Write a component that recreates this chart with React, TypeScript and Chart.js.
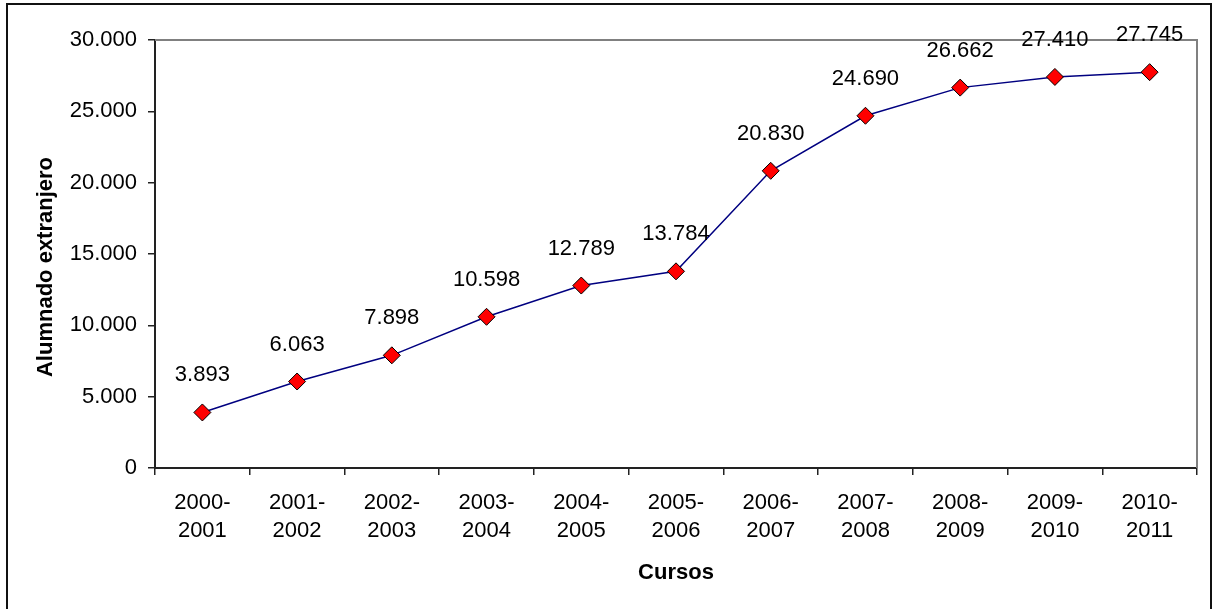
import React, { useEffect, useRef } from 'react';
import { Chart, registerables } from 'chart.js';

Chart.register(...registerables);

const categories: string[][] = [
  ['2000-', '2001'],
  ['2001-', '2002'],
  ['2002-', '2003'],
  ['2003-', '2004'],
  ['2004-', '2005'],
  ['2005-', '2006'],
  ['2006-', '2007'],
  ['2007-', '2008'],
  ['2008-', '2009'],
  ['2009-', '2010'],
  ['2010-', '2011'],
];
const values: number[] = [3893, 6063, 7898, 10598, 12789, 13784, 20830, 24690, 26662, 27410, 27745];
const yTicks: number[] = [0, 5000, 10000, 15000, 20000, 25000, 30000];
const yTitle = 'Alumnado extranjero';
const xTitle = 'Cursos';

const FONT = "'Liberation Sans', Arial, sans-serif";

function fmt(v: number): string {
  return String(v).replace(/\B(?=(\d{3})+(?!\d))/g, '.');
}

const decor = {
  id: 'decor',
  beforeDraw(chart: any) {
    const { ctx, width, height } = chart;
    ctx.save();
    ctx.fillStyle = '#ffffff';
    ctx.fillRect(0, 0, width, height);
    ctx.strokeStyle = '#111111';
    ctx.lineWidth = 2;
    ctx.beginPath();
    ctx.moveTo(7, height + 5);
    ctx.lineTo(7, 4);
    ctx.lineTo(1211, 4);
    ctx.lineTo(1211, height + 5);
    ctx.stroke();
    ctx.restore();
  },
  beforeDatasetsDraw(chart: any) {
    const { ctx, chartArea } = chart;
    ctx.save();
    ctx.strokeStyle = '#808080';
    ctx.lineWidth = 2;
    ctx.beginPath();
    ctx.moveTo(chartArea.left, chartArea.top);
    ctx.lineTo(chartArea.right, chartArea.top);
    ctx.lineTo(chartArea.right, chartArea.bottom);
    ctx.stroke();
    ctx.restore();
  },
  afterDatasetsDraw(chart: any) {
    const { ctx, chartArea } = chart;
    const meta = chart.getDatasetMeta(0);
    ctx.save();
    ctx.fillStyle = '#000000';
    ctx.font = `22px ${FONT}`;
    ctx.textAlign = 'center';
    ctx.textBaseline = 'alphabetic';
    meta.data.forEach((pt: any, i: number) => {
      ctx.fillText(fmt(values[i]), pt.x, pt.y - 31);
    });
    ctx.font = `bold 22px ${FONT}`;
    ctx.fillText(xTitle, (chartArea.left + chartArea.right) / 2, 579);
    ctx.translate(52, (chartArea.top + chartArea.bottom) / 2 + 13);
    ctx.rotate(-Math.PI / 2);
    ctx.fillText(yTitle, 0, 0);
    ctx.restore();
  },
};

export default function App() {
  const ref = useRef<HTMLCanvasElement | null>(null);
  useEffect(() => {
    if (!ref.current) return;
    const chart = new Chart(ref.current, {
      type: 'line',
      data: {
        labels: categories,
        datasets: [
          {
            data: values,
            borderColor: '#000080',
            borderWidth: 1.5,
            tension: 0,
            pointStyle: 'rectRot',
            pointRadius: 8.5,
            pointHoverRadius: 8.5,
            pointBackgroundColor: '#ff0000',
            pointBorderColor: '#000000',
            pointBorderWidth: 1,
          },
        ],
      },
      options: {
        animation: false,
        responsive: false,
        devicePixelRatio: 1,
        events: [],
        layout: { padding: { left: 0, right: 16, top: 40, bottom: 0 } },
        plugins: {
          legend: { display: false },
          tooltip: { enabled: false },
          title: { display: false },
        },
        scales: {
          x: {
            type: 'category',
            offset: true,
            grid: {
              display: true,
              offset: true,
              drawOnChartArea: false,
              drawTicks: true,
              tickLength: 7,
              color: '#222222',
              lineWidth: 1.5,
            },
            border: { display: true, color: '#222222', width: 2 },
            ticks: {
              color: '#000000',
              font: { family: FONT, size: 22, lineHeight: 1.28 },
              padding: 14,
              maxRotation: 0,
              autoSkip: false,
            },
            afterFit: (s: any) => {
              s.height = 141;
            },
          },
          y: {
            type: 'linear',
            min: 0,
            max: 30000,
            afterBuildTicks: (s: any) => {
              s.ticks = yTicks.map((v) => ({ value: v }));
            },
            grid: {
              display: true,
              drawOnChartArea: false,
              drawTicks: true,
              tickLength: 7,
              color: '#222222',
              lineWidth: 1.5,
            },
            border: { display: true, color: '#222222', width: 2 },
            ticks: {
              color: '#000000',
              font: { family: FONT, size: 22 },
              padding: 11,
              callback: (v: any) => fmt(Number(v)),
            },
            afterFit: (s: any) => {
              s.width = 155;
            },
          },
        },
      },
      plugins: [decor],
    });
    return () => chart.destroy();
  }, []);
  return (
    <div style={{ position: 'absolute', left: 0, top: 0, width: 1213, height: 609 }}>
      <canvas ref={ref} width={1213} height={609} style={{ display: 'block' }} />
    </div>
  );
}
